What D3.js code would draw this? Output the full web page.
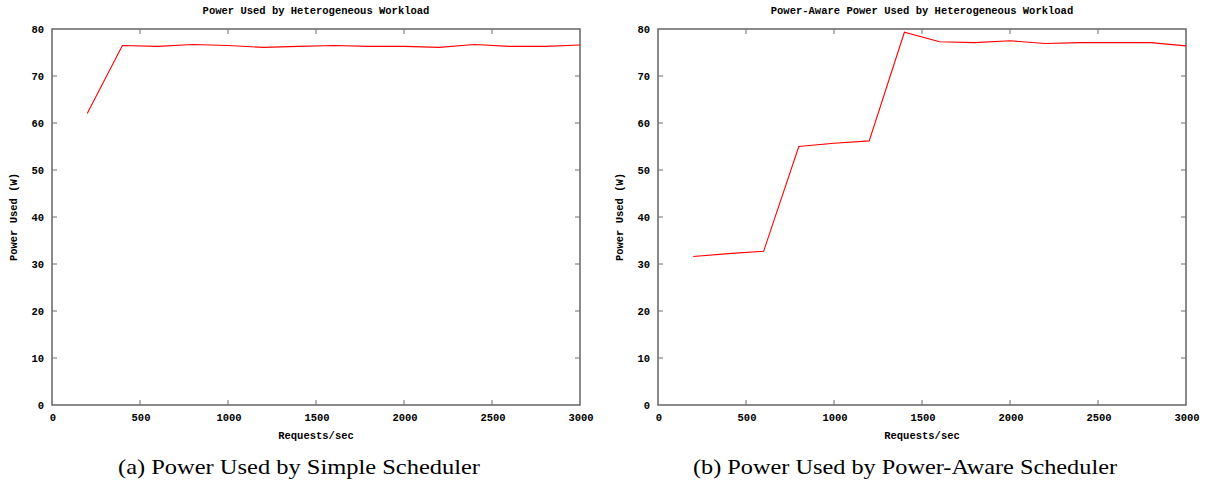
<!DOCTYPE html>
<html>
<head>
<meta charset="utf-8">
<script src="https://cdn.jsdelivr.net/npm/d3@7"></script>
<style>
  html, body { margin: 0; padding: 0; background: #fff; }
  svg { display: block; }
  .tick-label, .axis-title, .plot-title {
    font-family: "Liberation Mono", "DejaVu Sans Mono", monospace;
    font-weight: bold;
    font-size: 10.5px;
    fill: #000;
  }
  .caption {
    font-family: "Liberation Serif", "DejaVu Serif", serif;
    font-size: 22px;
    fill: #000;
  }
</style>
</head>
<body>
<svg id="chart" width="1207" height="485"></svg>
<script>
// Request rates (requests/sec) sampled in both experiments
const requestRates = [200, 400, 600, 800, 1000, 1200, 1400, 1600, 1800, 2000, 2200, 2400, 2600, 2800, 3000];

// Power draw (W) with the simple scheduler
const simplePower = [62.0, 76.5, 76.3, 76.7, 76.5, 76.1, 76.3, 76.5, 76.3, 76.3, 76.1, 76.7, 76.3, 76.3, 76.6];

// Power draw (W) with the power-aware scheduler
const awarePower = [31.6, 32.2, 32.7, 55.0, 55.7, 56.2, 79.3, 77.3, 77.1, 77.5, 76.9, 77.1, 77.1, 77.1, 76.4];

const xTicks = [0, 500, 1000, 1500, 2000, 2500, 3000];
const yTicks = [0, 10, 20, 30, 40, 50, 60, 70, 80];

const plotTitles = ["Power Used by Heterogeneous Workload", "Power-Aware Power Used by Heterogeneous Workload"];
const captions = ["(a) Power Used by Simple Scheduler", "(b) Power Used by Power-Aware Scheduler"];
const xLabel = "Requests/sec";
const yLabel = "Power Used (W)";

const panels = [
  { left: 52, values: simplePower, title: plotTitles[0], caption: captions[0], captionX: 299, captionW: 362, yLabelX: 17 },
  { left: 658, values: awarePower, title: plotTitles[1], caption: captions[1], captionX: 905, captionW: 424, yLabelX: 623 }
];

const svg = d3.select("#chart");
const plotW = 528, plotTop = 29, plotBottom = 405, tickLen = 5;
const axisColor = "#6e6e6e";

panels.forEach(p => {
  const x = d3.scaleLinear().domain([0, 3000]).range([p.left, p.left + plotW]);
  const y = d3.scaleLinear().domain([0, 80]).range([plotBottom, plotTop]);
  const g = svg.append("g");

  // frame
  g.append("rect")
    .attr("x", x(0)).attr("y", y(80))
    .attr("width", x(3000) - x(0)).attr("height", y(0) - y(80))
    .attr("fill", "none").attr("stroke", axisColor).attr("stroke-width", 1.6);

  // mirrored inward ticks on all four sides
  const inner = xTicks.slice(1, -1);
  g.selectAll(".xt-b").data(inner).join("line")
    .attr("x1", d => x(d)).attr("x2", d => x(d))
    .attr("y1", plotBottom).attr("y2", plotBottom - tickLen)
    .attr("stroke", axisColor).attr("stroke-width", 1);
  g.selectAll(".xt-t").data(inner).join("line")
    .attr("x1", d => x(d)).attr("x2", d => x(d))
    .attr("y1", plotTop).attr("y2", plotTop + tickLen)
    .attr("stroke", axisColor).attr("stroke-width", 1);
  const yInner = yTicks.slice(1, -1);
  g.selectAll(".yt-l").data(yInner).join("line")
    .attr("x1", x(0)).attr("x2", x(0) + tickLen)
    .attr("y1", d => y(d)).attr("y2", d => y(d))
    .attr("stroke", axisColor).attr("stroke-width", 1);
  g.selectAll(".yt-r").data(yInner).join("line")
    .attr("x1", x(3000)).attr("x2", x(3000) - tickLen)
    .attr("y1", d => y(d)).attr("y2", d => y(d))
    .attr("stroke", axisColor).attr("stroke-width", 1);

  // tick labels
  g.selectAll(".xl").data(xTicks).join("text")
    .attr("class", "tick-label")
    .attr("x", d => x(d) + 1).attr("y", plotBottom + 16)
    .attr("text-anchor", "middle")
    .text(d => d);
  g.selectAll(".yl").data(yTicks).join("text")
    .attr("class", "tick-label")
    .attr("x", x(0) - 8).attr("y", d => y(d) + 4)
    .attr("text-anchor", "end")
    .text(d => d);

  // axis titles
  g.append("text").attr("class", "axis-title")
    .attr("x", x(1500)).attr("y", 439)
    .attr("text-anchor", "middle").text(xLabel);
  g.append("text").attr("class", "axis-title")
    .attr("transform", `translate(${p.yLabelX},${y(40)}) rotate(-90)`)
    .attr("text-anchor", "middle").text(yLabel);

  // plot title
  g.append("text").attr("class", "plot-title")
    .attr("x", x(1500)).attr("y", 14)
    .attr("text-anchor", "middle").text(p.title);

  // data line
  const line = d3.line().x((d, i) => x(requestRates[i])).y(d => y(d));
  g.append("path")
    .attr("d", line(p.values))
    .attr("fill", "none").attr("stroke", "#ff0000").attr("stroke-width", 1.1);

  // subfigure caption
  g.append("text").attr("class", "caption")
    .attr("x", p.captionX).attr("y", 474)
    .attr("text-anchor", "middle")
    .attr("textLength", p.captionW)
    .attr("lengthAdjust", "spacingAndGlyphs")
    .text(p.caption);
});
</script>
</body>
</html>
